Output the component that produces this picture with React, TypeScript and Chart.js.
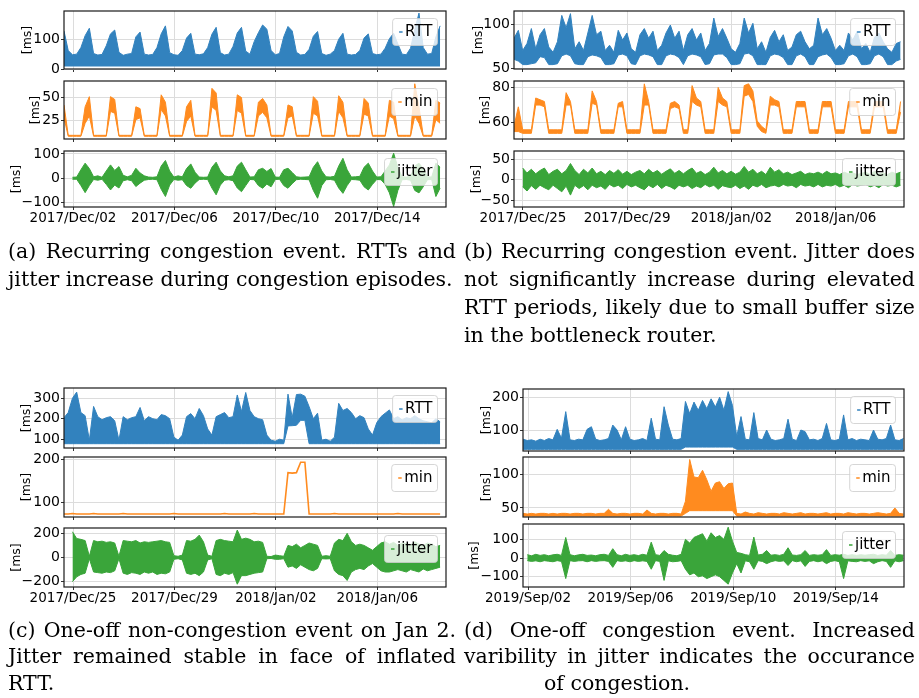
import React, { useEffect, useRef } from 'react';
import { Chart, registerables } from 'chart.js';

Chart.register(...registerables);

const FONT = "'DejaVu Sans', sans-serif";
const SERIF = "'DejaVu Serif', serif";
const STEP = 1 / 6; // one sample every 4 hours (in days)

// ---------- tick labels ----------
const X_TICK_DAYS = [0, 4, 8, 12];
const LABELS_A = ['2017/Dec/02', '2017/Dec/06', '2017/Dec/10', '2017/Dec/14'];
const LABELS_B = ['2017/Dec/25', '2017/Dec/29', '2018/Jan/02', '2018/Jan/06'];
const LABELS_C = ['2017/Dec/25', '2017/Dec/29', '2018/Jan/02', '2018/Jan/06'];
const LABELS_D = ['2019/Sep/02', '2019/Sep/06', '2019/Sep/10', '2019/Sep/14'];

// ---------- (a) ----------
const A_RTT_HI = [
  128, 62, 48, 50, 72, 112, 137, 52, 47, 49,
  78, 118, 131, 56, 46, 50, 52, 108, 124, 50,
  47, 49, 72, 118, 145, 55, 48, 46, 62, 104,
  120, 50, 48, 51, 72, 117, 140, 55, 47, 50,
  76, 121, 140, 60, 50, 92, 122, 148, 134, 62,
  48, 52, 108, 143, 128, 56, 47, 49, 66, 110,
  126, 52, 46, 50, 62, 100, 120, 50, 47, 49,
  62, 104, 118, 52, 48, 50, 70, 102, 120, 84,
  50, 48, 70, 132, 188, 72, 50, 52, 108, 145,
];
const A_RTT_FLOOR = 8;
const A_MIN_HI = [
  42, 9, 9, 9, 9, 40, 51, 9, 9, 9,
  9, 51, 48, 9, 9, 9, 9, 40, 38, 9,
  9, 9, 9, 53, 45, 9, 9, 9, 9, 40,
  47, 9, 9, 9, 9, 60, 55, 9, 9, 9,
  9, 53, 50, 9, 9, 9, 45, 49, 42, 9,
  9, 9, 9, 42, 40, 9, 9, 9, 9, 51,
  46, 9, 9, 9, 9, 52, 45, 9, 9, 9,
  9, 49, 44, 9, 9, 9, 9, 47, 45, 9,
  9, 9, 9, 65, 40, 9, 9, 9, 47, 44,
];
const A_MIN_LO = [
  28, 8, 8, 8, 8, 22, 30, 8, 8, 8,
  8, 35, 33, 8, 8, 8, 8, 26, 28, 8,
  8, 8, 8, 37, 30, 8, 8, 8, 8, 24,
  30, 8, 8, 8, 8, 40, 36, 8, 8, 8,
  8, 36, 33, 8, 8, 8, 30, 34, 28, 8,
  8, 8, 8, 28, 30, 8, 8, 8, 8, 33,
  30, 8, 8, 8, 8, 35, 28, 8, 8, 8,
  8, 32, 30, 8, 8, 8, 8, 30, 27, 8,
  8, 8, 8, 30, 22, 8, 8, 8, 26, 22,
];
const A_JIT_HI = [
  null, null, 4, 5, 35, 62, 40, 6, 10, 4,
  30, 55, 32, 48, 12, 6, 12, 41, 22, 10,
  5, 4, 6, 50, 73, 30, 5, 10, 6, 40,
  59, 25, 5, 4, 5, 45, 66, 30, 10, 6,
  10, 50, 66, 35, 5, 6, 35, 41, 28, 40,
  5, 4, 35, 41, 24, 6, 4, 5, 6, 45,
  68, 30, 6, 5, 8, 50, 82, 35, 5, 6,
  8, 45, 62, 30, 5, 6, 30, 55, 103, 45,
  6, 5, 8, 50, 62, 40, 6, 5, 62, 45,
];
const A_JIT_LO = [
  null, null, -4, -4, -30, -59, -30, -5, -8, -4,
  -25, -48, -28, -40, -10, -6, -10, -34, -20, -8,
  -5, -4, -6, -45, -75, -28, -5, -8, -6, -30,
  -41, -20, -5, -4, -5, -40, -68, -28, -8, -6,
  -10, -40, -55, -30, -5, -6, -30, -41, -24, -35,
  -5, -4, -30, -41, -22, -6, -4, -5, -6, -50,
  -82, -30, -6, -5, -8, -40, -62, -30, -5, -6,
  -8, -35, -48, -25, -5, -6, -25, -60, -116, -50,
  -6, -5, -8, -50, -60, -35, -6, -5, -75, -40,
];

// ---------- (b) ----------
const B_RTT_HI = [
  84, 93, 70, 78, 95, 72, 88, 95, 74, 68,
  80, 110, 96, 112, 72, 80, 70, 90, 110, 88,
  92, 70, 76, 68, 93, 82, 90, 72, 68, 88,
  95, 84, 92, 70, 76, 90, 99, 84, 92, 70,
  88, 95, 82, 90, 70, 78, 107, 86, 95, 84,
  72, 68, 78, 107, 90, 101, 72, 80, 68, 85,
  93, 80, 88, 70, 74, 88, 92, 80, 72, 76,
  107, 88, 95, 84, 70, 76, 70, 90, 82, 92,
  72, 78, 68, 85, 90, 80, 72, 68, 78, 80,
];
const B_RTT_LO = [
  60, 58, 54, 54, 55, 56, 63, 62, 54, 54,
  55, 64, 66, 64, 55, 54, 54, 63, 65, 64,
  62, 54, 54, 55, 65, 66, 64, 55, 54, 64,
  66, 65, 63, 54, 54, 64, 66, 65, 62, 54,
  64, 66, 65, 63, 54, 55, 65, 66, 66, 62,
  54, 54, 55, 66, 67, 64, 54, 54, 54, 64,
  66, 65, 62, 54, 54, 64, 66, 63, 54, 54,
  63, 65, 66, 62, 54, 54, 55, 64, 66, 63,
  54, 54, 55, 64, 66, 63, 54, 54, 58, 60,
];
const B_MIN_HI = [
  58, 69, 56, 56, 56, 74, 73, 72, 56, 56,
  56, 56, 77, 72, 56, 56, 56, 56, 78, 72,
  56, 56, 56, 56, 71, 72, 56, 56, 56, 56,
  82, 72, 56, 56, 56, 56, 71, 72, 70, 56,
  56, 81, 74, 72, 56, 56, 56, 80, 74, 72,
  56, 56, 56, 81, 82, 78, 61, 58, 56, 75,
  73, 72, 56, 56, 56, 72, 72, 72, 56, 56,
  56, 72, 72, 72, 56, 56, 56, 72, 72, 72,
  56, 56, 56, 72, 72, 72, 56, 56, 56, 72,
];
const B_MIN_LO = [
  55, 55, 54, 54, 54, 70, 70, 69, 54, 54,
  54, 54, 70, 70, 54, 54, 54, 54, 71, 70,
  54, 54, 54, 54, 69, 69, 54, 54, 54, 54,
  70, 70, 54, 54, 54, 54, 68, 69, 68, 54,
  54, 72, 70, 69, 54, 54, 54, 72, 70, 69,
  54, 54, 54, 75, 76, 72, 58, 55, 54, 70,
  70, 69, 54, 54, 54, 69, 69, 69, 54, 54,
  54, 69, 69, 69, 54, 54, 54, 69, 69, 69,
  54, 54, 54, 69, 69, 69, 54, 54, 54, 66,
];
const B_JIT_HI = [
  null, null, 28, 16, 25, 14, 22, 28, 12, 20,
  25, 14, 22, 39, 22, 12, 25, 16, 28, 14,
  20, 12, 22, 15, 24, 13, 20, 12, 18, 22,
  14, 25, 16, 22, 13, 20, 26, 15, 22, 14,
  22, 28, 15, 20, 12, 18, 30, 16, 22, 14,
  20, 13, 18, 32, 18, 25, 14, 20, 12, 30,
  18, 24, 14, 18, 12, 16, 20, 12, 16, 14,
  18, 13, 20, 14, 16, 12, 18, 14, 16, 12,
  15, 18, 12, 20, 14, 16, 12, 18, 14, 18,
];
const B_JIT_LO = [
  null, null, -18, -28, -15, -24, -14, -20, -25, -14,
  -22, -30, -16, -38, -14, -22, -15, -25, -14, -20,
  -16, -24, -12, -18, -14, -22, -12, -18, -14, -20,
  -25, -14, -20, -12, -22, -14, -18, -24, -14, -18,
  -14, -22, -16, -20, -12, -18, -14, -24, -15, -18,
  -20, -14, -22, -16, -24, -14, -18, -12, -20, -16,
  -14, -18, -12, -16, -14, -20, -12, -16, -14, -18,
  -12, -18, -14, -16, -12, -18, -14, -20, -12, -16,
  -14, -12, -18, -14, -20, -12, -16, -14, -18, -14,
];

// ---------- (c) ----------
const C_RTT_HI = [
  205, 230, 300, 330, 230, 215, 95, 260, 210, 195,
  205, 210, 190, 95, 210, 195, 205, 210, 255, 190,
  210, 200, 195, 220, 215, 200, 110, 95, 120, 210,
  225, 200, 250, 215, 150, 120, 210, 220, 230, 205,
  210, 316, 235, 328, 240, 210, 200, 195, 120, 95,
  90, 100, 95, 320, 205, 318, 320, 310, 259, 200,
  227, 95, 100, 90, 110, 275, 240, 250, 230, 200,
  215, 205, 150, 120, 180, 210, 227, 243, 200, 210,
  194, 205, 200, 215, 200, 190, 185, 180, 200, 185,
];
const C_RTT_LO = [
  78, 78, 78, 78, 78, 78, 78, 78, 78, 78,
  78, 78, 78, 78, 78, 78, 78, 78, 78, 78,
  78, 78, 78, 78, 78, 78, 78, 78, 78, 78,
  78, 78, 78, 78, 78, 78, 78, 78, 78, 78,
  78, 78, 78, 78, 78, 78, 78, 78, 78, 78,
  78, 78, 78, 165, 166, 168, 192, 192, 78, 78,
  78, 78, 78, 78, 78, 78, 78, 78, 78, 78,
  78, 78, 78, 78, 78, 78, 78, 78, 78, 78,
  78, 78, 78, 78, 78, 78, 78, 78, 78, 78,
];
const C_MIN = [
  74, 74, 75, 74, 74, 74, 74, 75, 74, 74,
  74, 74, 74, 74, 75, 74, 74, 74, 74, 74,
  74, 74, 74, 74, 74, 74, 75, 74, 74, 74,
  74, 74, 74, 74, 74, 74, 74, 74, 75, 74,
  74, 74, 74, 74, 74, 75, 74, 74, 74, 74,
  74, 74, 74, 169, 168, 169, 193, 193, 74, 74,
  74, 74, 74, 74, 75, 74, 74, 74, 74, 74,
  74, 74, 74, 74, 74, 74, 74, 74, 74, 75,
  74, 74, 74, 74, 74, 74, 74, 74, 74, 74,
];
const C_JIT_HI = [
  null, null, 213, 157, 150, 140, 10, 140, 130, 135,
  125, 130, 120, 10, 140, 135, 130, 140, 120, 130,
  125, 130, 135, 140, 130, 125, 15, 10, 20, 140,
  135, 150, 185, 130, 20, 10, 140, 150, 140, 135,
  130, 227, 150, 160, 150, 130, 135, 125, 10, 8,
  20, 15, 10, 100, 90, 110, 80, 100, 120, 110,
  100, 10, 15, 10, 120, 150, 140, 200, 130, 100,
  110, 100, 80, 60, 90, 120, 130, 110, 125, 100,
  120, 115, 105, 130, 110, 100, 120, 110, 90, 100,
];
const C_JIT_LO = [
  null, null, -200, -160, -140, -130, -10, -120, -125, -130,
  -120, -125, -110, -10, -130, -140, -125, -130, -140, -120,
  -130, -120, -140, -130, -135, -120, -15, -10, -20, -130,
  -140, -130, -150, -120, -20, -10, -140, -150, -130, -140,
  -125, -221, -150, -150, -140, -130, -125, -120, -10, -8,
  -15, -15, -10, -80, -70, -90, -60, -80, -100, -110,
  -90, -10, -12, -10, -110, -140, -150, -190, -120, -100,
  -90, -100, -70, -50, -80, -110, -120, -120, -110, -100,
  -110, -120, -100, -110, -120, -95, -110, -100, -90, -80,
];

// ---------- (d) ----------
const D_RTT_HI = [
  72, 68, 70, 66, 72, 68, 74, 70, 102, 75,
  156, 70, 68, 72, 70, 102, 110, 72, 68, 70,
  74, 115, 100, 70, 110, 72, 68, 70, 74, 68,
  136, 72, 70, 171, 115, 72, 70, 74, 187, 150,
  185, 160, 190, 165, 195, 170, 200, 160, 217, 175,
  80, 141, 72, 70, 153, 74, 70, 100, 72, 68,
  70, 74, 133, 72, 68, 100, 95, 70, 72, 68,
  74, 120, 70, 68, 72, 146, 70, 74, 68, 72,
  70, 68, 100, 72, 70, 74, 115, 70, 68, 74,
];
const D_RTT_LO = [
  41, 41, 41, 41, 41, 41, 41, 41, 41, 41,
  41, 41, 41, 41, 41, 41, 41, 41, 41, 41,
  41, 41, 41, 41, 41, 41, 41, 41, 41, 41,
  41, 41, 41, 41, 41, 41, 41, 41, 48, 48,
  48, 48, 48, 48, 48, 48, 48, 48, 48, 48,
  41, 41, 41, 41, 41, 41, 41, 41, 41, 41,
  41, 41, 41, 41, 41, 41, 41, 41, 41, 41,
  41, 41, 41, 41, 41, 41, 41, 41, 41, 41,
  41, 41, 41, 41, 41, 41, 41, 41, 41, 41,
];
const D_MIN_HI = [
  42, 41, 42, 41, 42, 42, 41, 42, 41, 42,
  42, 41, 42, 42, 41, 42, 42, 41, 42, 42,
  48, 42, 41, 42, 42, 41, 42, 42, 41, 47,
  42, 41, 42, 42, 41, 42, 42, 41, 60, 122,
  96, 95, 106, 92, 75, 87, 89, 79, 86, 87,
  42, 41, 44, 42, 41, 43, 42, 41, 42, 42,
  41, 43, 42, 41, 42, 43, 41, 42, 42, 41,
  42, 43, 41, 42, 42, 41, 43, 42, 41, 42,
  42, 41, 42, 43, 42, 41, 42, 50, 42, 41,
];
const D_MIN_LO = [
  38, 38, 38, 38, 38, 38, 38, 38, 38, 38,
  38, 38, 38, 38, 38, 38, 38, 38, 38, 38,
  38, 38, 38, 38, 38, 38, 38, 38, 38, 38,
  38, 38, 38, 38, 38, 38, 38, 38, 42, 46,
  46, 46, 46, 46, 46, 46, 46, 46, 46, 46,
  38, 38, 38, 38, 38, 38, 38, 38, 38, 38,
  38, 38, 38, 38, 38, 38, 38, 38, 38, 38,
  38, 38, 38, 38, 38, 38, 38, 38, 38, 38,
  38, 38, 38, 38, 38, 38, 38, 38, 38, 38,
];
const D_JIT_HI = [
  null, 18, 12, 20, 14, 18, 12, 17, 20, 14,
  110, 18, 12, 17, 20, 14, 16, 12, 18, 20,
  14, 50, 18, 12, 20, 14, 18, 13, 20, 15,
  85, 18, 14, 40, 20, 15, 12, 20, 100, 80,
  110, 120, 130, 90, 135, 110, 120, 100, 165, 90,
  30, 25, 18, 14, 112, 16, 20, 40, 15, 18,
  14, 20, 55, 16, 14, 18, 40, 14, 18, 15,
  18, 45, 14, 18, 15, 20, 14, 18, 14, 18,
  15, 18, 20, 14, 18, 15, 40, 14, 18, 15,
];
const D_JIT_LO = [
  null, -14, -18, -15, -20, -14, -17, -20, -14, -18,
  -110, -14, -18, -15, -14, -20, -14, -18, -15, -14,
  -18, -50, -14, -18, -15, -20, -14, -18, -15, -18,
  -60, -14, -18, -120, -15, -20, -18, -14, -60, -90,
  -80, -100, -95, -110, -100, -90, -100, -120, -140, -80,
  -30, -80, -15, -20, -60, -14, -18, -30, -20, -14,
  -18, -15, -40, -14, -20, -15, -45, -18, -14, -20,
  -15, -30, -18, -14, -20, -110, -15, -18, -20, -14,
  -18, -15, -30, -20, -14, -18, -50, -15, -20, -14,
];

// ---------- captions ----------
const CAPTION_A = ['(a) Recurring congestion event. RTTs and', 'jitter increase during congestion episodes.'];
const CAPTION_B = [
  '(b) Recurring congestion event. Jitter does',
  'not significantly increase during elevated',
  'RTT periods, likely due to small buffer size',
  'in the bottleneck router.',
];
const CAPTION_C = ['(c) One-off non-congestion event on Jan 2.', 'Jitter remained stable in face of inflated', 'RTT.'];
const CAPTION_D = ['(d) One-off congestion event. Increased', 'varibility in jitter indicates the occurance', 'of congestion.'];

// ---------- styling / layout ----------
const BLUE = '#3282be';
const ORANGE = '#ff8b1f';
const GREEN = '#3aa53a';
const GRID = '#dcdcdc';
const W_AXIS = 60;
const T_PAD = 14;
const R_PAD = 4;
const B_SMALL = 14;
const B_LABEL = 28;

type Vals = (number | null)[];
interface PanelCfg {
  left: number; top: number; w: number; h: number;
  xMin: number; xMax: number; xLabels: string[];
  showX: boolean;
  yMin: number; yMax: number; yTicks: number[];
  color: string; label: string; titlePad: number;
  hi: Vals; lo?: Vals; floor?: number;
}

const COL1 = { left: 64, w: 382 };
const COL_B = { left: 514, w: 390 };
const COL_D = { left: 523, w: 381 };
const XR_A = { xMin: -0.355, xMax: 14.71 };
const XR_B = { xMin: -0.345, xMax: 14.62 };
const XR_C = { xMin: -0.355, xMax: 14.71 };
const XR_D = { xMin: -0.195, xMax: 14.66 };

const PANELS: PanelCfg[] = [
  // (a)
  { ...COL1, ...XR_A, top: 11, h: 58, xLabels: LABELS_A, showX: false, yMin: 0, yMax: 195, yTicks: [0, 100], color: BLUE, label: 'RTT', titlePad: 16.5, hi: A_RTT_HI, floor: A_RTT_FLOOR },
  { ...COL1, ...XR_A, top: 81, h: 58, xLabels: LABELS_A, showX: false, yMin: 5, yMax: 68, yTicks: [25, 50], color: ORANGE, label: 'min', titlePad: 24.5, hi: A_MIN_HI, lo: A_MIN_LO },
  { ...COL1, ...XR_A, top: 151, h: 56, xLabels: LABELS_A, showX: true, yMin: -118, yMax: 112, yTicks: [-100, 0, 100], color: GREEN, label: 'jitter', titlePad: 5.2, hi: A_JIT_HI, lo: A_JIT_LO },
  // (b)
  { ...COL_B, ...XR_B, top: 11, h: 58, xLabels: LABELS_B, showX: false, yMin: 49, yMax: 115, yTicks: [50, 100], color: BLUE, label: 'RTT', titlePad: 17.2, hi: B_RTT_HI, lo: B_RTT_LO },
  { ...COL_B, ...XR_B, top: 81, h: 58, xLabels: LABELS_B, showX: false, yMin: 50.8, yMax: 83.6, yTicks: [60, 80], color: ORANGE, label: 'min', titlePad: 24.5, hi: B_MIN_HI, lo: B_MIN_LO },
  { ...COL_B, ...XR_B, top: 151, h: 56, xLabels: LABELS_B, showX: true, yMin: -67, yMax: 69.5, yTicks: [-50, 0, 50], color: GREEN, label: 'jitter', titlePad: 15.5, hi: B_JIT_HI, lo: B_JIT_LO },
  // (c)
  { ...COL1, ...XR_C, top: 388, h: 60, xLabels: LABELS_C, showX: false, yMin: 57, yMax: 350, yTicks: [100, 200, 300], color: BLUE, label: 'RTT', titlePad: 15.5, hi: C_RTT_HI, lo: C_RTT_LO },
  { ...COL1, ...XR_C, top: 457, h: 60, xLabels: LABELS_C, showX: false, yMin: 67, yMax: 205, yTicks: [100, 200], color: ORANGE, label: 'min', titlePad: 15.5, hi: C_MIN },
  { ...COL1, ...XR_C, top: 528, h: 59, xLabels: LABELS_C, showX: true, yMin: -244, yMax: 244, yTicks: [-200, 0, 200], color: GREEN, label: 'jitter', titlePad: 5.5, hi: C_JIT_HI, lo: C_JIT_LO },
  // (d)
  { ...COL_D, ...XR_D, top: 389, h: 62, xLabels: LABELS_D, showX: false, yMin: 36, yMax: 225, yTicks: [100, 200], color: BLUE, label: 'RTT', titlePad: 16.5, hi: D_RTT_HI, lo: D_RTT_LO },
  { ...COL_D, ...XR_D, top: 457, h: 60, xLabels: LABELS_D, showX: false, yMin: 36.6, yMax: 125.7, yTicks: [50, 100], color: ORANGE, label: 'min', titlePad: 16.5, hi: D_MIN_HI, lo: D_MIN_LO },
  { ...COL_D, ...XR_D, top: 524, h: 63, xLabels: LABELS_D, showX: true, yMin: -155, yMax: 182, yTicks: [-100, 0, 100], color: GREEN, label: 'jitter', titlePad: 4.5, hi: D_JIT_HI, lo: D_JIT_LO },
];

const fmtY = (v: number) => (v < 0 ? '\u2212' + Math.abs(v) : String(v));

function Panel({ p }: { p: PanelCfg }) {
  const ref = useRef<HTMLCanvasElement | null>(null);
  const bx = p.showX ? B_LABEL : B_SMALL;
  const cw = W_AXIS + p.w + R_PAD;
  const ch = T_PAD + p.h + bx;

  useEffect(() => {
    if (!ref.current) return;
    const pts = (arr: Vals) => arr.map((v, i) => ({ x: p.xMin + i * STEP, y: v }));
    const base = { pointRadius: 0, borderWidth: 1, borderColor: p.color, tension: 0, spanGaps: false };
    let datasets: any[];
    if (p.lo) {
      datasets = [
        { ...base, data: pts(p.hi), backgroundColor: p.color, fill: '+1' },
        { ...base, data: pts(p.lo), fill: false },
      ];
    } else if (p.floor !== undefined) {
      datasets = [{ ...base, data: pts(p.hi), backgroundColor: p.color, fill: { value: p.floor } }];
    } else {
      datasets = [{ ...base, borderWidth: 1.6, data: pts(p.hi), fill: false }];
    }

    const framePlugin = {
      id: 'frame',
      afterDatasetsDraw(chart: any) {
        const { ctx, chartArea: a } = chart;
        ctx.save();
        ctx.strokeStyle = '#1a1a1a';
        ctx.lineWidth = 1.2;
        ctx.strokeRect(a.left, a.top, a.right - a.left, a.bottom - a.top);
        ctx.restore();
      },
    };
    const legendPlugin = {
      id: 'boxLegend',
      afterDraw(chart: any) {
        const { ctx, chartArea: a } = chart;
        ctx.save();
        ctx.font = `15px ${FONT}`;
        const tw = ctx.measureText(p.label).width;
        const bw = tw + 17.5;
        const bh = 27;
        const x = a.right - 8.5 - bw;
        const y = a.top + 7.5;
        ctx.beginPath();
        if (ctx.roundRect) ctx.roundRect(x, y, bw, bh, 3);
        else ctx.rect(x, y, bw, bh);
        ctx.fillStyle = 'rgba(255,255,255,0.8)';
        ctx.fill();
        ctx.strokeStyle = 'rgba(204,204,204,0.8)';
        ctx.lineWidth = 1;
        ctx.stroke();
        ctx.strokeStyle = p.color;
        ctx.lineWidth = 1.5;
        ctx.beginPath();
        ctx.moveTo(x + 6.5, y + bh / 2);
        ctx.lineTo(x + 10, y + bh / 2);
        ctx.stroke();
        ctx.fillStyle = '#000';
        ctx.textBaseline = 'middle';
        ctx.textAlign = 'left';
        ctx.fillText(p.label, x + 12.5, y + bh / 2 + 0.5);
        ctx.restore();
      },
    };

    const chart = new Chart(ref.current, {
      type: 'line',
      data: { datasets },
      options: {
        animation: false,
        responsive: false,
        events: [],
        layout: { padding: { left: 0, right: R_PAD, top: T_PAD, bottom: 0 } },
        plugins: { legend: { display: false }, tooltip: { enabled: false } },
        scales: {
          x: {
            type: 'linear',
            min: p.xMin,
            max: p.xMax,
            afterFit: (s: any) => { s.height = bx; },
            afterBuildTicks: (s: any) => { s.ticks = X_TICK_DAYS.map((v) => ({ value: v })); },
            ticks: {
              display: p.showX,
              autoSkip: false,
              maxRotation: 0,
              padding: 2,
              color: '#000',
              font: { family: FONT, size: 13.5, lineHeight: 1 },
              callback: (_v: any, i: number) => p.xLabels[i],
            },
            grid: { color: GRID, lineWidth: 1, drawTicks: true, tickLength: 3, tickColor: '#333', tickWidth: 1 },
            border: { display: false },
          },
          y: {
            type: 'linear',
            min: p.yMin,
            max: p.yMax,
            afterFit: (s: any) => { s.width = W_AXIS; },
            afterBuildTicks: (s: any) => { s.ticks = p.yTicks.map((v) => ({ value: v })); },
            ticks: {
              padding: 1,
              color: '#000',
              font: { family: FONT, size: 14 },
              callback: (v: any) => fmtY(Number(v)),
            },
            title: {
              display: true,
              text: '[ms]',
              color: '#000',
              font: { family: FONT, size: 12.5 },
              padding: { top: p.titlePad, bottom: 0 },
            },
            grid: { color: GRID, lineWidth: 1, drawTicks: true, tickLength: 3, tickColor: '#333', tickWidth: 1 },
            border: { display: false },
          },
        },
      } as any,
      plugins: [framePlugin, legendPlugin],
    });
    return () => chart.destroy();
  }, []);

  return (
    <div style={{ position: 'absolute', left: p.left - W_AXIS, top: p.top - T_PAD, width: cw, height: ch }}>
      <canvas ref={ref} width={cw} height={ch} style={{ display: 'block', width: cw, height: ch }} />
    </div>
  );
}

function Caption({ lines, left, top, width, lh, lastIndent = 0 }: { lines: string[]; left: number; top: number; width: number; lh: number; lastIndent?: number }) {
  return (
    <div style={{ position: 'absolute', left, top, width, fontFamily: SERIF, fontSize: 20.5, color: '#000' }}>
      {lines.map((line, i) => {
        const justify = i < lines.length - 1;
        if (justify) {
          return (
            <div key={i} style={{ display: 'flex', justifyContent: 'space-between', height: lh, lineHeight: lh + 'px', whiteSpace: 'nowrap' }}>
              {line.split(' ').map((w, j) => <span key={j}>{w}</span>)}
            </div>
          );
        }
        return <div key={i} style={{ height: lh, lineHeight: lh + 'px', whiteSpace: 'nowrap', paddingLeft: lastIndent }}>{line}</div>;
      })}
    </div>
  );
}

export default function App() {
  return (
    <div style={{ position: 'absolute', left: 0, top: 0, width: 919, height: 698, background: '#fff', overflow: 'hidden' }}>
      {PANELS.map((p, i) => <Panel key={i} p={p} />)}
      <Caption lines={CAPTION_A} left={8} top={237} width={448} lh={28} />
      <Caption lines={CAPTION_B} left={464} top={237} width={451} lh={28} />
      <Caption lines={CAPTION_C} left={8} top={616.5} width={448} lh={26.7} />
      <Caption lines={CAPTION_D} left={464} top={616.5} width={451} lh={26.7} lastIndent={80} />
    </div>
  );
}
